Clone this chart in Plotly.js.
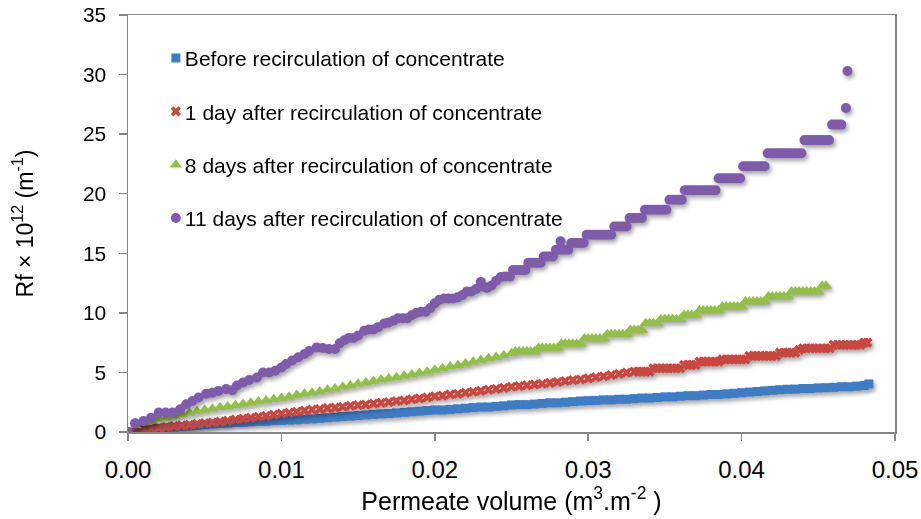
<!DOCTYPE html>
<html>
<head>
<meta charset="utf-8">
<script src="https://cdn.plot.ly/plotly-3.0.1.min.js"></script>
<style>
html,body{margin:0;padding:0;background:#fff;}
#chart{width:921px;height:519px;}
.scatterlayer .trace .points{filter:drop-shadow(2px 3px 2px rgba(0,0,0,0.35));}
.legend .legendpoints{transform:translate(11px,0px);}
</style>
</head>
<body>
<div id="chart"></div>
<script>
// Series names
const seriesNames = [
  "Before recirculation of concentrate",
  "1 day after recirculation of concentrate",
  "8 days after recirculation of concentrate",
  "11 days after recirculation of concentrate"
];

// Before recirculation (blue squares)
const xBefore = [0,0.0005,0.001,0.0015,0.002,0.0025,0.003,0.0035,0.004,0.0045,0.005,0.0055,0.006,0.0065,0.007,0.0075,0.008,0.0085,0.009,0.0095,0.01,0.0105,0.011,0.0115,0.012,0.0125,0.013,0.0135,0.014,0.0145,0.015,0.0155,0.016,0.0165,0.017,0.0175,0.018,0.0185,0.019,0.0195,0.02,0.0205,0.021,0.0215,0.022,0.0225,0.023,0.0235,0.024,0.0245,0.025,0.0255,0.026,0.0265,0.027,0.0275,0.028,0.0285,0.029,0.0295,0.03,0.0305,0.031,0.0315,0.032,0.0325,0.033,0.0335,0.034,0.0345,0.035,0.0355,0.036,0.0365,0.037,0.0375,0.038,0.0385,0.039,0.0395,0.04,0.0405,0.041,0.0415,0.042,0.0425,0.043,0.0435,0.044,0.0445,0.045,0.0455,0.046,0.0465,0.047,0.0475,0.048,0.0483];
const yBefore = [0,0.08,0.15,0.22,0.3,0.35,0.4,0.45,0.5,0.55,0.62,0.68,0.73,0.75,0.8,0.8,0.85,0.9,0.9,0.95,0.97,1.0,1.02,1.07,1.1,1.15,1.2,1.25,1.3,1.33,1.38,1.43,1.48,1.52,1.55,1.6,1.65,1.7,1.75,1.8,1.85,1.85,1.9,1.95,2.0,2.05,2.1,2.1,2.15,2.2,2.27,2.3,2.3,2.35,2.4,2.45,2.45,2.5,2.55,2.6,2.63,2.65,2.7,2.7,2.75,2.75,2.8,2.85,2.85,2.9,2.95,2.95,3.0,3.05,3.05,3.1,3.15,3.15,3.2,3.25,3.3,3.35,3.4,3.45,3.5,3.55,3.59,3.6,3.65,3.65,3.7,3.72,3.75,3.8,3.8,3.85,3.9,4.03];

// 1 day after (red x)
const x1Day = [0,0.0005,0.001,0.0015,0.002,0.0025,0.003,0.0035,0.004,0.0045,0.005,0.0055,0.006,0.0065,0.007,0.0075,0.008,0.0085,0.009,0.0095,0.01,0.0105,0.011,0.0115,0.012,0.0125,0.013,0.0135,0.014,0.0145,0.015,0.0155,0.016,0.0165,0.017,0.0175,0.018,0.0185,0.019,0.0195,0.02,0.0205,0.021,0.0215,0.022,0.0225,0.023,0.0235,0.024,0.0245,0.025,0.0255,0.026,0.0265,0.027,0.0275,0.028,0.0285,0.029,0.0295,0.03,0.0305,0.031,0.0315,0.032,0.0325,
  0.033,0.03325,0.0335,0.03375,0.034,0.03425,0.0345,0.03475,0.035,0.03525,0.0355,0.03575,0.036,0.03625,0.0365,0.03675,0.037,0.03725,0.0375,0.03775,0.038,0.03825,0.0385,0.03875,0.039,0.03925,0.0395,0.03975,0.04,0.04025,0.0405,0.04075,0.041,0.04125,0.0415,0.04175,0.042,0.04225,0.0425,0.04275,0.043,0.04325,0.0435,0.04375,0.044,0.04425,0.0445,0.04475,0.045,0.04525,0.0455,0.04575,0.046,0.04625,0.0465,0.04675,0.047,0.04725,0.0475,0.04775,0.048,0.0482];
const y1Day = [0,0.1,0.2,0.28,0.35,0.42,0.5,0.55,0.6,0.68,0.75,0.8,0.87,0.95,1.05,1.12,1.2,1.28,1.35,1.45,1.55,1.62,1.7,1.8,1.88,1.92,2.0,2.05,2.12,2.2,2.25,2.3,2.38,2.45,2.52,2.6,2.65,2.75,2.82,2.9,3.0,3.05,3.15,3.2,3.3,3.38,3.45,3.55,3.62,3.7,3.8,3.85,3.92,4.0,4.05,4.12,4.2,4.28,4.35,4.42,4.5,4.6,4.68,4.78,4.88,4.98,
  5.07,5.07,5.07,5.07,5.07,5.35,5.35,5.35,5.35,5.35,5.35,5.35,5.35,5.63,5.63,5.63,5.63,5.91,5.91,5.91,5.91,5.91,5.91,6.1,6.1,6.1,6.1,6.1,6.1,6.1,6.39,6.39,6.39,6.39,6.39,6.39,6.39,6.39,6.66,6.66,6.66,6.66,6.66,6.89,7.03,7.03,7.03,7.03,7.03,7.03,7.03,7.03,7.31,7.31,7.31,7.31,7.31,7.31,7.31,7.31,7.5,7.5];

// 8 days after (green triangles)
const x8Days = [0,0.0005,0.001,0.0015,0.002,0.0025,0.003,0.0035,0.004,0.0045,0.005,0.0055,0.006,0.0065,0.007,0.0075,0.008,0.0085,0.009,0.0095,0.01,0.0105,0.011,0.0115,0.012,0.0125,0.013,0.0135,0.014,0.0145,0.015,0.0155,0.016,0.0165,0.017,0.0175,0.018,0.0185,0.019,0.0195,0.02,0.0205,0.021,0.0215,0.022,0.0225,0.023,0.0235,0.024,0.0245,0.025,
  0.02525,0.0255,0.02575,0.026,0.02625,0.0265,0.02675,0.027,0.02725,0.0275,0.02775,0.028,0.02825,0.0285,0.02875,0.029,0.02925,0.0295,0.02975,0.03,0.03025,0.0305,0.03075,0.031,0.03125,0.0315,0.03175,0.032,0.03225,0.0325,0.03275,0.033,0.03325,0.0335,0.03375,0.034,0.03425,0.0345,0.03475,0.035,0.03525,0.0355,0.03575,0.036,0.03625,0.0365,0.03675,0.037,0.03725,0.0375,0.03775,0.038,0.03825,0.0385,0.03875,0.039,0.03925,0.0395,0.03975,0.04,0.04025,0.0405,0.04075,0.041,0.04125,0.0415,0.04175,0.042,0.04225,0.0425,0.04275,0.043,0.04325,0.0435,0.04375,0.044,0.04425,0.0445,0.04475,0.045,0.04525,0.0455];
const y8Days = [0,0.55,0.8,0.95,1.1,1.2,1.35,1.5,1.6,1.75,1.85,1.95,2.07,2.15,2.25,2.35,2.45,2.55,2.65,2.75,2.85,2.95,3.1,3.2,3.3,3.4,3.55,3.65,3.8,3.9,4.05,4.15,4.28,4.4,4.5,4.6,4.72,4.82,4.95,5.05,5.2,5.35,5.5,5.6,5.75,5.9,6.05,6.2,6.3,6.45,6.6,
  6.75,6.75,6.75,6.75,6.75,6.75,7.05,7.05,7.05,7.05,7.05,7.05,7.4,7.4,7.4,7.4,7.4,7.4,7.85,7.85,7.85,7.85,7.85,7.85,8.2,8.2,8.2,8.2,8.2,8.2,8.57,8.57,8.57,8.57,9.13,9.13,9.13,9.13,9.47,9.47,9.47,9.47,9.47,9.47,9.83,9.83,9.83,9.83,10.19,10.19,10.19,10.19,10.19,10.19,10.53,10.53,10.53,10.53,10.53,10.53,10.95,10.95,10.95,10.95,10.95,10.95,11.37,11.37,11.37,11.37,11.37,11.37,11.79,11.79,11.79,11.79,11.79,11.79,11.79,11.79,12.27,12.27];

// 11 days after (purple circles)
const x11Days = [0,0.00046,0.001,0.0015,0.002,0.00245,0.0029,0.0034,0.0038,0.0042,0.0046,0.0051,0.0055,0.0059,0.0064,0.0068,0.0071,0.0075,0.0079,0.0084,0.0088,0.0092,0.0096,0.01,0.0103,0.0107,0.0111,0.0115,0.0118,0.0123,0.0127,0.0131,0.0135,
  0.0138,0.0141,0.0144,0.0147,0.015,0.0154,0.0157,0.016,0.0163,0.0167,0.017,0.0173,0.0176,0.0179,0.0182,0.0185,0.0188,0.0191,0.0194,0.0197,0.02,0.0203,0.0206,0.0209,0.0212,0.0215,0.0218,0.0221,0.0224,0.0227,0.023,0.0232,0.0234,0.0237,0.024,0.0243,0.0246,0.0249,
  0.0251,0.0253,0.0255,0.0257,0.0259,0.0261,0.0263,0.0265,0.0267,0.0269,0.0271,0.0273,0.0275,0.0277,0.0279,0.0281,0.0283,0.0285,0.0287,0.0282,0.0289,0.0291,0.0293,0.0295,0.0297,0.0299,0.0301,0.0303,0.0305,0.0307,0.0309,0.0311,0.0313,0.0315,0.0317,0.0319,0.0321,0.0323,0.0325,0.0327,0.0329,0.0331,0.0333,0.0335,0.0337,0.0339,0.0341,0.0343,0.0345,0.0347,0.0349,0.0351,0.0353,0.0355,0.0357,0.0359,0.0361,0.0363,0.0365,0.0367,0.0369,0.0371,0.0373,0.0375,0.0377,0.0379,0.0381,0.0383,0.0385,0.0387,0.0389,0.0391,0.0393,0.0395,0.0397,0.0399,0.0401,0.0403,0.0405,0.0407,0.0409,0.0411,0.0413,0.0415,0.0417,0.0419,0.0421,0.0423,0.0425,0.0427,0.0429,0.0431,0.0433,0.0435,0.0437,0.0439,0.0441,0.0443,0.0445,0.0447,0.0449,0.0451,0.0453,0.0455,0.0457,0.0459,0.0461,0.0463,0.0465,0.0468,0.0469];
const y11Days = [0,0.73,0.93,1.2,1.63,1.63,1.63,1.91,2.33,2.6,2.9,3.2,3.3,3.45,3.6,3.5,3.9,4.16,4.36,4.58,5.0,5.0,5.14,5.42,5.7,6.0,6.27,6.55,6.8,7.1,7.05,6.97,6.97,
  7.45,7.7,7.9,7.9,8.1,8.5,8.6,8.6,8.8,9.1,9.2,9.35,9.55,9.55,9.55,9.8,10.0,10.1,10.1,10.4,10.8,11.1,11.2,11.2,11.2,11.3,11.5,11.8,11.8,12.0,12.6,12.2,12.1,12.3,12.7,13.0,13.05,13.05,
  13.6,13.6,13.6,13.6,13.6,14.2,14.2,14.2,14.2,14.2,14.73,14.73,14.73,14.73,15.3,15.3,15.3,15.3,15.3,16.0,15.86,15.86,15.86,15.86,15.86,16.55,16.55,16.55,16.55,16.55,16.55,16.55,16.55,16.55,17.25,17.25,17.25,17.25,17.25,17.96,17.96,17.96,17.96,17.96,18.66,18.66,18.66,18.66,18.66,18.66,18.66,18.66,19.5,19.5,19.5,19.5,19.5,20.3,20.3,20.3,20.3,20.3,20.3,20.3,20.3,20.3,20.3,20.3,21.3,21.3,21.3,21.3,21.3,21.3,21.3,21.3,22.3,22.3,22.3,22.3,22.3,22.3,22.3,22.3,23.4,23.4,23.4,23.4,23.4,23.4,23.4,23.4,23.4,23.4,23.4,23.4,24.5,24.5,24.5,24.5,24.5,24.5,24.5,24.5,24.5,25.8,25.8,25.8,25.8,27.2,30.3];

// Axis ticks
const xTickVals = [0, 0.01, 0.02, 0.03, 0.04, 0.05];
const xTickText = ["0.00", "0.01", "0.02", "0.03", "0.04", "0.05"];
const yTickVals = [0, 5, 10, 15, 20, 25, 30, 35];

const FONT = "Liberation Sans, Arial, Helvetica, sans-serif";
const AX = "#868686";

function tr(name, xs, ys, symbol, color, size, group) {
  return {
    type: "scatter", mode: "markers", name: name, x: xs, y: ys,
    legendgroup: group,
    marker: {symbol: symbol, color: color, size: size, line: {width: 0}},
    hoverinfo: "skip"
  };
}

const data = [
  tr(seriesNames[0], xBefore, yBefore, "square", "#3f7cc6", 9, "a"),
  tr(seriesNames[1], x1Day, y1Day, "x", "#c9473f", 9, "b"),
  tr(seriesNames[2], x8Days, y8Days, "triangle-up", "#92bf46", 11, "c"),
  tr(seriesNames[3], x11Days, y11Days, "circle", "#7f5cab", 10, "d")
];

const layout = {
  width: 921, height: 519,
  margin: {l: 128, r: 26, t: 15, b: 87, pad: 0},
  paper_bgcolor: "#fff", plot_bgcolor: "#fff",
  font: {family: FONT, size: 21, color: "#000"},
  showlegend: true,
  legend: {
    x: 0.022, y: 0.945, xanchor: "left", yanchor: "top",
    font: {family: FONT, size: 21, color: "#000"},
    bgcolor: "rgba(255,255,255,0)", borderwidth: 0,
    traceorder: "grouped", tracegroupgap: 23, itemwidth: 30
  },
  xaxis: {
    range: [0, 0.05], tickmode: "array", tickvals: xTickVals, ticktext: xTickText,
    showgrid: false, zeroline: false,
    showline: true, linecolor: AX, linewidth: 1.5, mirror: true,
    ticks: "outside", ticklen: 7, tickcolor: AX, tickwidth: 1.5,
    ticklabelstandoff: 9,
    tickfont: {family: FONT, size: 24, color: "#000"},
    title: {text: "Permeate volume (m<sup>3</sup>.m<sup>-2</sup> )", font: {family: FONT, size: 25, color: "#000"}, standoff: 8},
    automargin: false
  },
  yaxis: {
    range: [0, 35], tickmode: "array", tickvals: yTickVals,
    showgrid: false, zeroline: false,
    showline: true, linecolor: AX, linewidth: 1.5, mirror: true,
    ticks: "outside", ticklen: 8, tickcolor: AX, tickwidth: 1.5,
    ticklabelstandoff: 8,
    tickfont: {family: FONT, size: 21, color: "#000"},
    title: {text: "Rf × 10<sup>12</sup> (m<sup>-1</sup>)", font: {family: FONT, size: 23, color: "#000"}, standoff: 43},
    automargin: false
  }
};

Plotly.newPlot("chart", data, layout, {displayModeBar: false, staticPlot: true});
</script>
</body>
</html>
